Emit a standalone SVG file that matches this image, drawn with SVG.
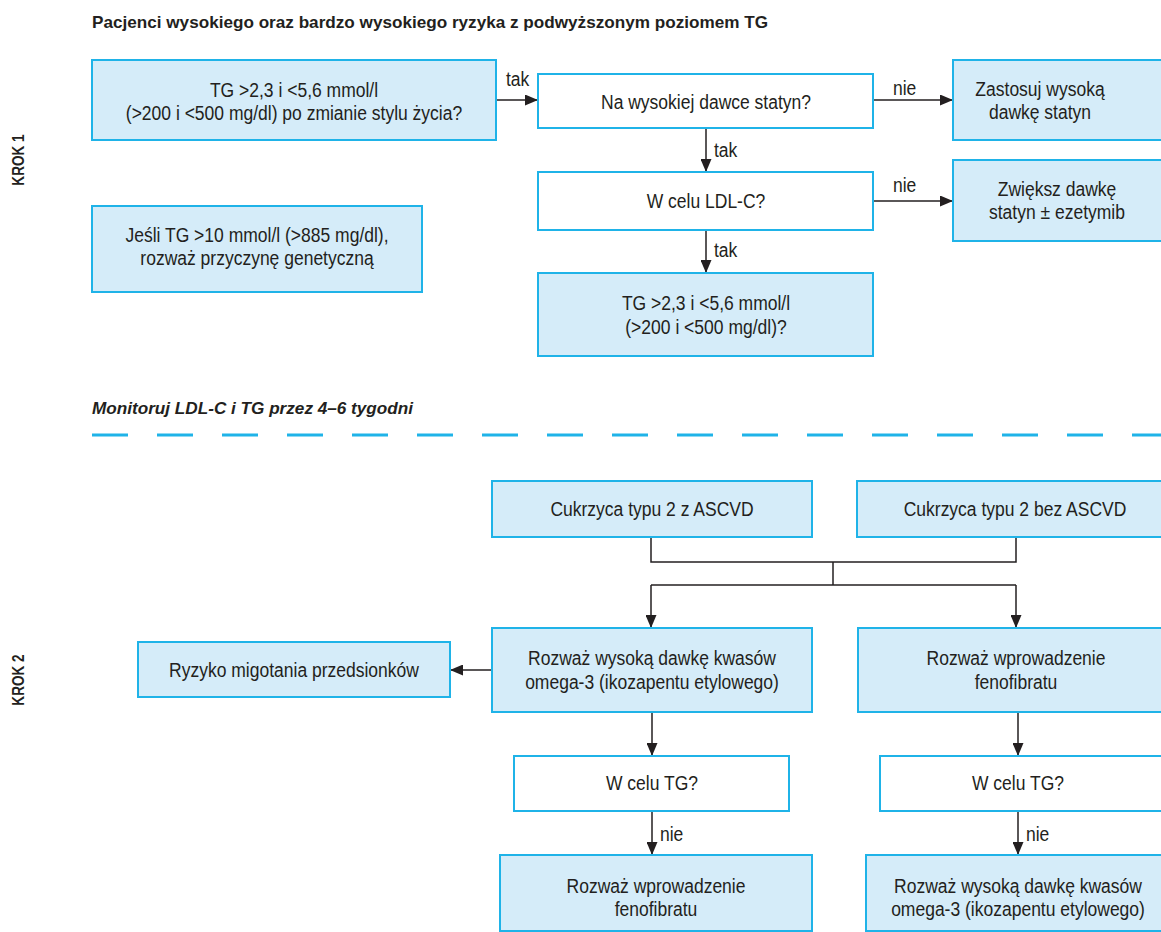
<svg xmlns="http://www.w3.org/2000/svg" width="1161" height="932" viewBox="0 0 1161 932">
<defs>
<marker id="ah" viewBox="0 0 13 11" refX="13" refY="5.5" markerWidth="13" markerHeight="11" markerUnits="userSpaceOnUse" orient="auto">
<path d="M0,0 L13,5.5 L0,11 z" fill="#231f20"/>
</marker>
<style>
text{font-family:"Liberation Sans",Arial,sans-serif;fill:#231f20;font-size:20px;}
.t{text-anchor:middle;}
.b{fill:#d5ecf9;stroke:#1fb3e8;stroke-width:2;}
.w{fill:#ffffff;stroke:#1fb3e8;stroke-width:2;}
.h{font-weight:bold;font-size:17px;}
.k{font-weight:bold;font-size:16px;text-anchor:middle;}
.c line,.c path{stroke:#231f20;stroke-width:1.5;fill:none;}
.a{marker-end:url(#ah);}
</style>
</defs>
<rect width="1161" height="932" fill="#ffffff"/>
<text class="h" x="92" y="28" textLength="676" lengthAdjust="spacingAndGlyphs">Pacjenci wysokiego oraz bardzo wysokiego ryzyka z podwyższonym poziomem TG</text>
<text class="k" transform="translate(24,160) rotate(-90) scale(0.85,1)">KROK 1</text>
<text class="k" transform="translate(24,680) rotate(-90) scale(0.85,1)">KROK 2</text>
<text class="h" x="92" y="414" font-style="italic" textLength="321" lengthAdjust="spacingAndGlyphs">Monitoruj LDL-C i TG przez 4–6 tygodni</text>
<line x1="92" y1="435" x2="1161" y2="435" stroke="#1fb3e8" stroke-width="3" stroke-dasharray="36 29"/>

<g class="c" id="connectors">
<line class="a" x1="496" y1="100" x2="538" y2="100"/>
<line class="a" x1="873" y1="100" x2="953" y2="100"/>
<line class="a" x1="706" y1="128" x2="706" y2="172"/>
<line class="a" x1="873" y1="201" x2="953" y2="201"/>
<line class="a" x1="706" y1="230" x2="706" y2="273"/>
<path d="M651,537 V562 H1016 V537"/>
<line x1="833" y1="562" x2="833" y2="585"/>
<line x1="651" y1="585" x2="1016" y2="585"/>
<line class="a" x1="651" y1="585" x2="651" y2="628"/>
<line class="a" x1="1016" y1="585" x2="1016" y2="628"/>
<line class="a" x1="492" y1="670" x2="450" y2="670"/>
<line class="a" x1="652" y1="712" x2="652" y2="756"/>
<line class="a" x1="652" y1="811" x2="652" y2="855"/>
<line class="a" x1="1018" y1="712" x2="1018" y2="756"/>
<line class="a" x1="1018" y1="811" x2="1018" y2="855"/>
</g>
<g id="labels">
<text transform="translate(506,86) scale(0.875,1)">tak</text>
<text transform="translate(893,95) scale(0.875,1)">nie</text>
<text transform="translate(714,157) scale(0.875,1)">tak</text>
<text transform="translate(893,192) scale(0.875,1)">nie</text>
<text transform="translate(714,257) scale(0.875,1)">tak</text>
<text transform="translate(660,841) scale(0.875,1)">nie</text>
<text transform="translate(1026,841) scale(0.875,1)">nie</text>
</g>

<g id="n1"><rect class="b" x="92" y="60" width="404" height="80"/>
<text class="t" transform="translate(294,97) scale(0.875,1)">TG &gt;2,3 i &lt;5,6 mmol/l</text>
<text class="t" transform="translate(294,120) scale(0.875,1)">(&gt;200 i &lt;500 mg/dl) po zmianie stylu życia?</text></g>
<g id="n2"><rect class="w" x="538" y="74" width="335" height="54"/>
<text class="t" transform="translate(706,109) scale(0.875,1)">Na wysokiej dawce statyn?</text></g>
<g id="n3"><rect class="b" x="953" y="60" width="215" height="80"/>
<text class="t" transform="translate(1040,96) scale(0.875,1)">Zastosuj wysoką</text>
<text class="t" transform="translate(1040,119) scale(0.875,1)">dawkę statyn</text></g>
<g id="n4"><rect class="w" x="538" y="172" width="335" height="58"/>
<text class="t" transform="translate(706,208) scale(0.875,1)">W celu LDL-C?</text></g>
<g id="n5"><rect class="b" x="953" y="160" width="215" height="81"/>
<text class="t" transform="translate(1057,196) scale(0.875,1)">Zwiększ dawkę</text>
<text class="t" transform="translate(1057,219) scale(0.875,1)">statyn ± ezetymib</text></g>
<g id="n6"><rect class="b" x="538" y="273" width="335" height="83"/>
<text class="t" transform="translate(706,310) scale(0.875,1)">TG &gt;2,3 i &lt;5,6 mmol/l</text>
<text class="t" transform="translate(706,334) scale(0.875,1)">(&gt;200 i &lt;500 mg/dl)?</text></g>
<g id="n7"><rect class="b" x="92" y="206" width="330" height="86"/>
<text class="t" transform="translate(257,242) scale(0.875,1)">Jeśli TG &gt;10 mmol/l (&gt;885 mg/dl),</text>
<text class="t" transform="translate(257,265) scale(0.875,1)">rozważ przyczynę genetyczną</text></g>

<g id="n8"><rect class="b" x="492" y="481" width="320" height="56"/>
<text class="t" transform="translate(652,516) scale(0.875,1)">Cukrzyca typu 2 z ASCVD</text></g>
<g id="n9"><rect class="b" x="857" y="481" width="310" height="56"/>
<text class="t" transform="translate(1015,516) scale(0.875,1)">Cukrzyca typu 2 bez ASCVD</text></g>
<g id="n10"><rect class="b" x="492" y="628" width="320" height="84"/>
<text class="t" transform="translate(652,665) scale(0.875,1)">Rozważ wysoką dawkę kwasów</text>
<text class="t" transform="translate(652,689) scale(0.875,1)">omega-3 (ikozapentu etylowego)</text></g>
<g id="n11"><rect class="b" x="858" y="628" width="310" height="84"/>
<text class="t" transform="translate(1016,665) scale(0.875,1)">Rozważ wprowadzenie</text>
<text class="t" transform="translate(1016,689) scale(0.875,1)">fenofibratu</text></g>
<g id="n12"><rect class="b" x="138" y="642" width="312" height="55"/>
<text class="t" transform="translate(294,677) scale(0.875,1)">Ryzyko migotania przedsionków</text></g>
<g id="n13"><rect class="w" x="514" y="756" width="275" height="55"/>
<text class="t" transform="translate(652,790) scale(0.875,1)">W celu TG?</text></g>
<g id="n14"><rect class="w" x="880" y="756" width="285" height="55"/>
<text class="t" transform="translate(1018,790) scale(0.875,1)">W celu TG?</text></g>
<g id="n15"><rect class="b" x="500" y="855" width="312" height="76"/>
<text class="t" transform="translate(656,893) scale(0.875,1)">Rozważ wprowadzenie</text>
<text class="t" transform="translate(656,916) scale(0.875,1)">fenofibratu</text></g>
<g id="n16"><rect class="b" x="866" y="855" width="300" height="76"/>
<text class="t" transform="translate(1018,893) scale(0.875,1)">Rozważ wysoką dawkę kwasów</text>
<text class="t" transform="translate(1018,916) scale(0.875,1)">omega-3 (ikozapentu etylowego)</text></g>
</svg>
